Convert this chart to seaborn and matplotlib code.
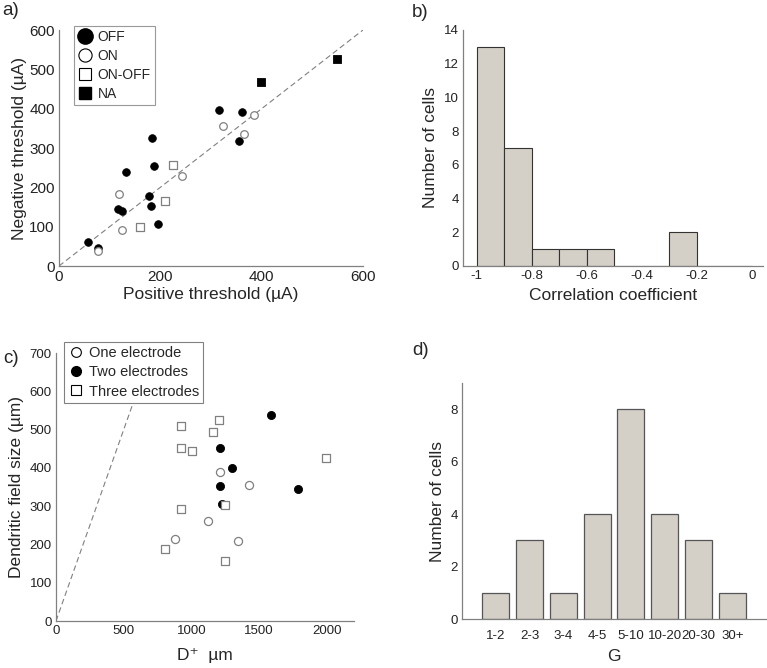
import numpy as np
import pandas as pd
import matplotlib
matplotlib.use('Agg')
import matplotlib.pyplot as plt
from matplotlib.lines import Line2D
import seaborn as sns

# panel a: thresholds (uA)
off_pos = [57, 76, 117, 125, 133, 177, 181, 184, 188, 195, 316, 361, 355]
off_neg = [61, 47, 144, 140, 238, 178, 153, 326, 253, 106, 397, 391, 317]
on_pos = [76, 118, 125, 242, 324, 365, 384]
on_neg = [38, 183, 91, 229, 356, 335, 385]
onoff_pos = [160, 210, 225]
onoff_neg = [100, 166, 256]
na_pos = [398, 548]
na_neg = [468, 525]

# panel b: correlation histogram
corr_edges = [-1.0, -0.9, -0.8, -0.7, -0.6, -0.5, -0.4, -0.3, -0.2, -0.1, 0.0]
corr_counts = [13, 7, 1, 1, 1, 0, 0, 2, 0, 0]

# panel c: D+ vs dendritic field size (um)
one_d = [879, 1121, 1209, 1341, 1422]
one_size = [214, 262, 389, 209, 356]
two_d = [1209, 1209, 1297, 1229, 1586, 1785]
two_size = [452, 352, 400, 305, 539, 344]
three_d = [805, 920, 923, 925, 1004, 1158, 1204, 1244, 1248, 1995]
three_size = [187, 509, 452, 293, 443, 494, 524, 302, 157, 425]

# panel d: G categories
g_cats = ['1-2', '2-3', '3-4', '4-5', '5-10', '10-20', '20-30', '30+']
g_counts = [1, 3, 1, 4, 8, 4, 3, 1]

sns.set_style('white')
plt.rcParams['font.family'] = ['Liberation Sans', 'DejaVu Sans']
plt.rcParams['xtick.direction'] = 'in'
plt.rcParams['ytick.direction'] = 'in'

GRAY = '#808080'
BAR = '#d4d0c8'
W, H = 767, 668


def box(l, t, r, b):
    return [l / W, 1 - b / H, (r - l) / W, (b - t) / H]


def style_axes(ax, fs):
    sns.despine(ax=ax)
    for s in ['left', 'bottom']:
        ax.spines[s].set_color(GRAY)
        ax.spines[s].set_linewidth(0.9)
    ax.tick_params(length=3, width=0.8, color=GRAY, labelsize=fs,
                   labelcolor='#222222', pad=3)


fig = plt.figure(figsize=(W / 100, H / 100), dpi=100)

# ---- a)
ax = fig.add_axes(box(59, 30, 363, 266))
ax.plot([0, 600], [0, 600], ls='--', color=GRAY, lw=0.8, dashes=(5, 3), zorder=1)
sns.scatterplot(x=off_pos, y=off_neg, ax=ax, marker='o', s=30, color='black',
                edgecolor='black', linewidth=0.6, zorder=3)
sns.scatterplot(x=on_pos, y=on_neg, ax=ax, marker='o', s=30, color='white',
                edgecolor=GRAY, linewidth=0.9, zorder=3)
sns.scatterplot(x=onoff_pos, y=onoff_neg, ax=ax, marker='s', s=26, color='white',
                edgecolor=GRAY, linewidth=0.9, zorder=3)
sns.scatterplot(x=na_pos, y=na_neg, ax=ax, marker='s', s=26, color='black',
                edgecolor='black', linewidth=0.6, zorder=3)
ax.set_xlim(0, 600)
ax.set_ylim(0, 600)
ax.set_xticks([0, 200, 400, 600])
ax.set_yticks(range(0, 601, 100))
ax.set_xlabel('Positive threshold (µA)', fontsize=12.5, labelpad=2)
ax.set_ylabel('Negative threshold (µA)', fontsize=12.5, labelpad=2)
style_axes(ax, 11)
handles = [
    Line2D([], [], ls='', marker='o', ms=11, mfc='black', mec='black'),
    Line2D([], [], ls='', marker='o', ms=9.5, mfc='white', mec='black', mew=0.8),
    Line2D([], [], ls='', marker='s', ms=8, mfc='white', mec='black', mew=0.8),
    Line2D([], [], ls='', marker='s', ms=8, mfc='black', mec='black'),
]
leg = ax.legend(handles, ['OFF', 'ON', 'ON-OFF', 'NA'], loc='upper left',
                bbox_to_anchor=(74 / W, 1 - 26 / H), bbox_transform=fig.transFigure,
                borderaxespad=0, fontsize=10, frameon=True, fancybox=False,
                handlelength=1.0, handletextpad=0.4, labelspacing=0.35,
                borderpad=0.3)
leg.get_frame().set_edgecolor(GRAY)
leg.get_frame().set_linewidth(0.8)

# ---- b)
ax = fig.add_axes(box(463, 30, 763, 266))
centers = [(corr_edges[i] + corr_edges[i + 1]) / 2 for i in range(len(corr_counts))]
sns.histplot(x=centers, weights=corr_counts, bins=corr_edges, ax=ax,
             color=BAR, edgecolor='#333333', linewidth=0.8, alpha=1)
ax.set_xlim(-1.05, 0.04)
ax.set_ylim(0, 14)
ax.set_xticks([-1, -0.8, -0.6, -0.4, -0.2, 0])
ax.set_xticklabels(['-1', '-0.8', '-0.6', '-0.4', '-0.2', '0'])
ax.set_yticks(range(0, 15, 2))
ax.set_xlabel('Correlation coefficient', fontsize=12.5, labelpad=4)
ax.set_ylabel('Number of cells', fontsize=12.5, labelpad=4)
style_axes(ax, 9.5)

# ---- c)
ax = fig.add_axes(box(56, 353, 354, 621))
ax.plot([0, 700], [0, 700], ls='--', color=GRAY, lw=0.8, dashes=(5, 3), zorder=1)
sns.scatterplot(x=one_d, y=one_size, ax=ax, marker='o', s=34, color='white',
                edgecolor=GRAY, linewidth=0.9, zorder=3)
sns.scatterplot(x=two_d, y=two_size, ax=ax, marker='o', s=34, color='black',
                edgecolor='black', linewidth=0.6, zorder=3)
sns.scatterplot(x=three_d, y=three_size, ax=ax, marker='s', s=30, color='white',
                edgecolor=GRAY, linewidth=0.9, zorder=3)
ax.set_xlim(0, 2200)
ax.set_ylim(0, 700)
ax.set_xticks([0, 500, 1000, 1500, 2000])
ax.set_yticks(range(0, 701, 100))
ax.set_xlabel('D⁺  µm', fontsize=12.5, labelpad=8)
ax.set_ylabel('Dendritic field size (µm)', fontsize=12.5, labelpad=4)
style_axes(ax, 9.5)
handles = [
    Line2D([], [], ls='', marker='o', ms=7, mfc='white', mec='black', mew=0.8),
    Line2D([], [], ls='', marker='o', ms=7, mfc='black', mec='black'),
    Line2D([], [], ls='', marker='s', ms=6.5, mfc='white', mec='black', mew=0.8),
]
leg = ax.legend(handles, ['One electrode', 'Two electrodes', 'Three electrodes'],
                loc='upper left', bbox_to_anchor=(64 / W, 1 - 342 / H),
                bbox_transform=fig.transFigure, borderaxespad=0, fontsize=10.5,
                frameon=True, fancybox=False, framealpha=1, handlelength=1.0,
                handletextpad=0.4, labelspacing=0.35, borderpad=0.3)
leg.get_frame().set_edgecolor(GRAY)
leg.get_frame().set_linewidth(0.8)
leg.set_zorder(10)

# ---- d)
ax = fig.add_axes(box(462, 383, 766, 619))
sns.barplot(x=g_cats, y=g_counts, ax=ax, color=BAR, saturation=1,
            edgecolor='#555555', linewidth=0.9, width=0.8)
ax.set_xlim(-1, 8)
ax.set_ylim(0, 9)
ax.set_yticks([0, 2, 4, 6, 8])
ax.set_xlabel('G', fontsize=12.5, labelpad=5)
ax.set_ylabel('Number of cells', fontsize=12.5, labelpad=4)
style_axes(ax, 9.5)
ax.tick_params(axis='x', length=0, pad=8)

# panel letters
for lbl, x, y in [('a)', 2, 2), ('b)', 412, 4), ('c)', 3, 350), ('d)', 412, 342)]:
    fig.text(x / W, 1 - y / H, lbl, fontsize=13.5, ha='left', va='top')

fig.savefig('out.png', dpi=100)
